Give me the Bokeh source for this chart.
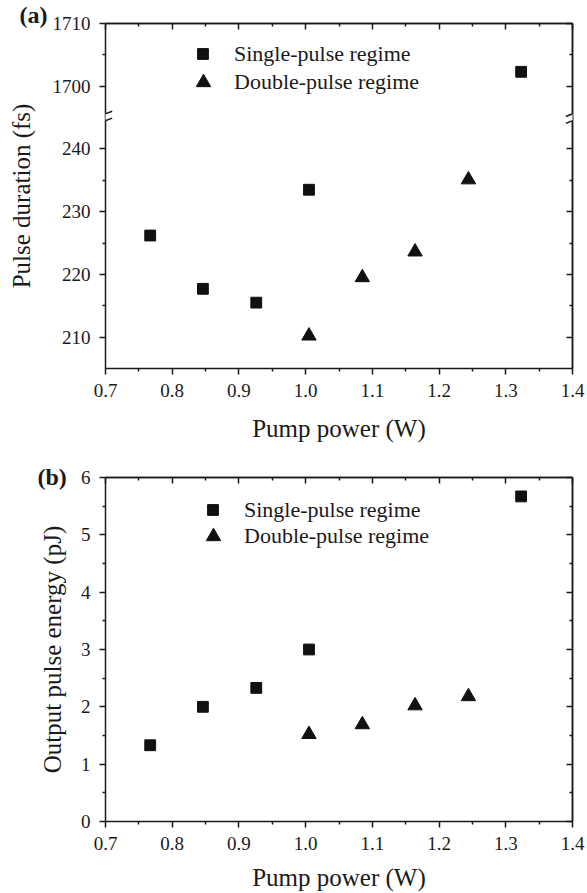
import numpy as np
from bokeh.plotting import figure
from bokeh.models import (Range1d, LinearAxis, FixedTicker, PrintfTickFormatter,
                          Title, Arrow, Legend, LegendItem, ColumnDataSource)
from bokeh.layouts import column
from bokeh.embed import file_html
from bokeh.resources import INLINE

# ---------------- data ----------------
pump_single = [0.767, 0.846, 0.926, 1.005, 1.323]
duration_single = [226.2, 217.7, 215.5, 233.5, 1702.3]
pump_double = [1.005, 1.085, 1.164, 1.244]
duration_double = [210.2, 219.5, 223.6, 235.1]

energy_single = [1.33, 2.00, 2.33, 3.00, 5.67]
energy_double = [1.52, 1.69, 2.02, 2.18]

x_ticks = [0.7, 0.8, 0.9, 1.0, 1.1, 1.2, 1.3, 1.4]
x_minor = [0.75, 0.85, 0.95, 1.05, 1.15, 1.25, 1.35]
dur_ticks = [210, 220, 230, 240, 1700, 1710]
dur_minor = [215, 225, 235, 1705]
energy_ticks = [0, 1, 2, 3, 4, 5, 6]
energy_minor = [0.5, 1.5, 2.5, 3.5, 4.5, 5.5]

labels = ["Single-pulse regime", "Double-pulse regime"]

# broken axis: lower segment 205-245, upper segment 1695-1710
LOW_MIN, BREAK_LOW, BREAK_HIGH, HIGH_MAX = 205, 245, 1695, 1710
GAP = BREAK_HIGH - BREAK_LOW


def squeeze(v):
    v = np.asarray(v, dtype=float)
    return np.where(v >= BREAK_HIGH, v - GAP, v)


FONT = "Liberation Serif"
TXT = "#1a1a1a"
MK = "#111111"
TICK_FS = "19px"
TITLE_FS = "25px"
LEG_FS = "22px"
SQ_BOX = 27
TRI_BOX = 36
SQ = SQ_BOX * 0.4
TRI = TRI_BOX * 0.4

LINE = dict(axis_line_width=1.5, major_tick_line_width=1.5, minor_tick_line_width=1.5,
            axis_line_color=TXT, major_tick_line_color=TXT, minor_tick_line_color=TXT)


def tick_only_axes(p, side, majors, minors):
    # mirror axis without labels: two label-free axes (only "minor" ticks, so no texts)
    for vals, length in ((majors, 6), (minors, 3)):
        ax = LinearAxis(ticker=FixedTicker(ticks=[], minor_ticks=list(vals)),
                        major_tick_in=0, major_tick_out=0,
                        minor_tick_in=length, minor_tick_out=0,
                        major_label_standoff=0, axis_label_standoff=0, **LINE)
        p.add_layout(ax, side)


def add_axes(p, xt, xm, yt, ym, y_over, ylabel, xlabel, y_standoff, x_standoff):
    fmt = PrintfTickFormatter(format="%.1f")
    common = dict(major_label_text_font=FONT, major_label_text_color=TXT,
                  axis_label_text_font=FONT, axis_label_text_color=TXT,
                  axis_label_text_font_style="normal", axis_label_text_font_size=TITLE_FS,
                  **LINE)
    b = LinearAxis(ticker=FixedTicker(ticks=xt, minor_ticks=xm), formatter=fmt,
                   major_tick_in=0, major_tick_out=6, minor_tick_in=0, minor_tick_out=3,
                   major_label_text_font_size=TICK_FS, major_label_standoff=9,
                   axis_label=xlabel, axis_label_standoff=x_standoff, **common)
    l = LinearAxis(ticker=FixedTicker(ticks=yt, minor_ticks=ym),
                   major_tick_in=0, major_tick_out=6, minor_tick_in=0, minor_tick_out=3,
                   major_label_text_font_size=TICK_FS, major_label_standoff=9,
                   major_label_overrides=y_over,
                   axis_label=ylabel, axis_label_standoff=y_standoff, **common)
    p.add_layout(b, "below")
    p.add_layout(l, "left")
    tick_only_axes(p, "above", xt, xm)
    tick_only_axes(p, "right", yt, ym)


def add_legend_item(p, label, rend, box, loc, standoff):
    leg = Legend(items=[LegendItem(label=label, renderers=[rend])],
                 location=loc, border_line_color=None, background_fill_alpha=0,
                 padding=0, margin=0, spacing=0, glyph_width=box, glyph_height=box,
                 label_height=box, label_standoff=standoff, label_text_font=FONT,
                 label_text_font_size=LEG_FS, label_text_color=TXT)
    p.add_layout(leg)


def panel_title(text, offset, standoff):
    return Title(text=text, align="left", offset=offset, standoff=standoff,
                 vertical_align="bottom", text_font=FONT, text_font_style="bold",
                 text_font_size="24px", text_color=TXT)


# ---------------- panel (a) ----------------
pa = figure(width=587, height=448, x_range=Range1d(0.7, 1.4),
            y_range=Range1d(LOW_MIN, HIGH_MAX - GAP),
            x_axis_type=None, y_axis_type=None, output_backend="svg",
            toolbar_location=None, min_border_left=105, min_border_right=15,
            min_border_top=23, min_border_bottom=80, outline_line_color=None,
            background_fill_color="white", border_fill_color="white",
            title=panel_title("(a)", -86, -9))

src_as = ColumnDataSource(dict(x=pump_single, y=squeeze(duration_single)))
src_ad = ColumnDataSource(dict(x=pump_double, y=squeeze(duration_double)))
ra1 = pa.scatter("x", "y", source=src_as, marker="square", size=SQ, color=MK)
ra2 = pa.scatter("x", "y", source=src_ad, marker="triangle", size=TRI, color=MK)

dur_tick_pos = [float(v) for v in squeeze(dur_ticks)]
dur_minor_pos = [float(v) for v in squeeze(dur_minor)]
dur_over = {pos: str(lab) for pos, lab in zip(dur_tick_pos, dur_ticks)}
add_axes(pa, x_ticks, x_minor, dur_tick_pos, dur_minor_pos, dur_over,
         "Pulse duration (fs)", "Pump power (W)", 15, 15)
add_legend_item(pa, labels[0], ra1, SQ_BOX, (84, 301), 18)
add_legend_item(pa, labels[1], ra2, TRI_BOX, (80, 268), 13)

# break marks
for xb in (0.7, 1.4):
    pa.add_layout(Arrow(x_start=xb, y_start=BREAK_LOW + 0.6, x_end=xb, y_end=BREAK_LOW - 0.5,
                        end=None, line_color="white", line_width=5, level="overlay"))
    for yc in (BREAK_LOW + 0.6, BREAK_LOW - 0.5):
        pa.add_layout(Arrow(x_start=xb - 0.01, y_start=yc - 0.42, x_end=xb + 0.01, y_end=yc + 0.42,
                            end=None, line_color=TXT, line_width=1.5, level="overlay"))

# ---------------- panel (b) ----------------
pb = figure(width=587, height=445, x_range=Range1d(0.7, 1.4), y_range=Range1d(0, 6),
            x_axis_type=None, y_axis_type=None, output_backend="svg",
            toolbar_location=None, min_border_left=105, min_border_right=15,
            min_border_top=29, min_border_bottom=71, outline_line_color=None,
            background_fill_color="white", border_fill_color="white",
            title=panel_title("(b)", -68, -24))

src_bs = ColumnDataSource(dict(x=pump_single, y=energy_single))
src_bd = ColumnDataSource(dict(x=pump_double, y=energy_double))
rb1 = pb.scatter("x", "y", source=src_bs, marker="square", size=SQ, color=MK)
rb2 = pb.scatter("x", "y", source=src_bd, marker="triangle", size=TRI, color=MK)

add_axes(pb, x_ticks, x_minor, energy_ticks, energy_minor, {},
         "Output pulse energy (pJ)", "Pump power (W)", 12, 11)
add_legend_item(pb, labels[0], rb1, SQ_BOX, (94, 298), 18)
add_legend_item(pb, labels[1], rb2, TRI_BOX, (90, 267), 13)

layout = column(pa, pb, spacing=0)
open("out.html", "w").write(file_html(layout, INLINE))
